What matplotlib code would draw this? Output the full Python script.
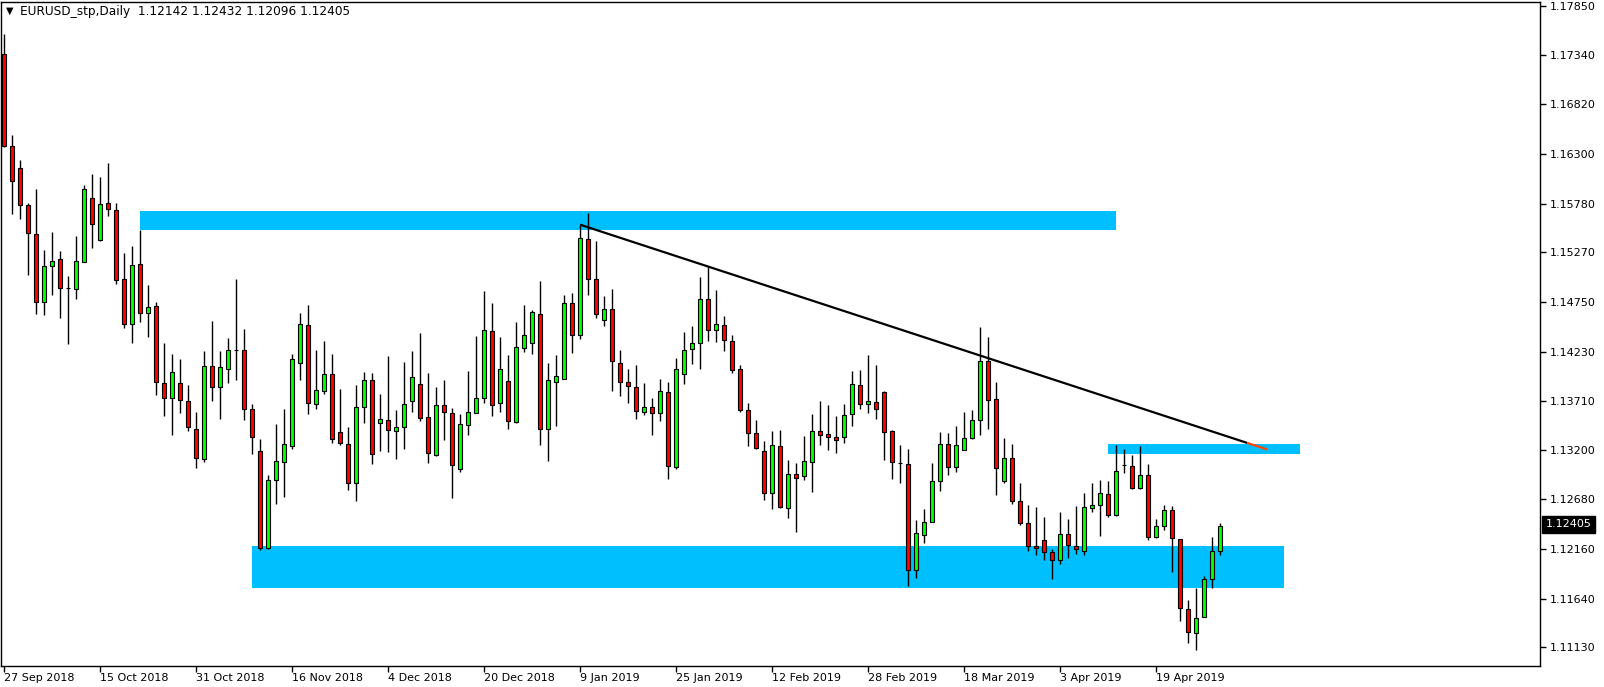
import matplotlib
matplotlib.use("Agg")
import matplotlib.pyplot as plt
from matplotlib.patches import Rectangle
import numpy as np

# daily EURUSD bars, 27 Sep 2018 .. 1 May 2019 (bar index = trading day)
opens = [1.17343, 1.16384, 1.16149, 1.15767, 1.15463, 1.14744, 1.15121, 1.15195, 1.14896, 1.14882,
         1.15172, 1.15836, 1.15393, 1.15781, 1.15711, 1.14988, 1.14522, 1.15145, 1.14633, 1.14702,
         1.13905, 1.13739, 1.13905, 1.13716, 1.13421, 1.13107, 1.14075, 1.13863, 1.14052, 1.14250,
         1.14241, 1.13624, 1.13190, 1.12167, 1.12881, 1.13075, 1.13236, 1.14112, 1.14504, 1.13683,
         1.13813, 1.13992, 1.13388, 1.13259, 1.12854, 1.13647, 1.13928, 1.13481, 1.13513, 1.13402,
         1.13444, 1.13711, 1.13895, 1.13541, 1.13144, 1.13674, 1.13591, 1.13001, 1.13462, 1.13591,
         1.13739, 1.14444, 1.13693, 1.13919, 1.13490, 1.14264, 1.14324, 1.14624, 1.13421, 1.13914,
         1.13942, 1.14739, 1.14398, 1.15412, 1.14992, 1.14564, 1.14674, 1.14112, 1.13914, 1.13863,
         1.13600, 1.13651, 1.13591, 1.13803, 1.13020, 1.13997, 1.14260, 1.14315, 1.14776, 1.14453,
         1.14504, 1.14338, 1.14043, 1.13614, 1.13379, 1.13190, 1.12748, 1.13241, 1.12591, 1.12951,
         1.12923, 1.13075, 1.13393, 1.13361, 1.13338, 1.13338, 1.13577, 1.13877, 1.13683, 1.13697,
         1.13803, 1.13393, 1.13066, 1.13057, 1.11937, 1.12310, 1.12444, 1.12872, 1.13264, 1.13024,
         1.13199, 1.13329, 1.13508, 1.14126, 1.13730, 1.12872, 1.13117, 1.12660, 1.12434, 1.12190,
         1.12255, 1.12130, 1.12043, 1.12319, 1.12190, 1.12139, 1.12596, 1.12623, 1.12734, 1.12513,
         1.13038, 1.13029, 1.12798, 1.12937, 1.12282, 1.12402, 1.12568, 1.12264, 1.11536, 1.11278,
         1.11453, 1.11849, 1.12142]
highs = [1.17555, 1.16495, 1.16231, 1.15785, 1.15933, 1.15292, 1.15486, 1.15283, 1.15020, 1.15444,
         1.15979, 1.16094, 1.16053, 1.16200, 1.15785, 1.15264, 1.15338, 1.15499, 1.14928, 1.14753,
         1.14320, 1.14200, 1.14154, 1.13877, 1.13600, 1.14232, 1.14545, 1.14232, 1.14370, 1.14992,
         1.14467, 1.13683, 1.13310, 1.12937, 1.13476, 1.13624, 1.14200, 1.14633, 1.14720, 1.14241,
         1.14338, 1.14209, 1.13836, 1.13439, 1.13877, 1.14015, 1.14002, 1.13789, 1.14181, 1.13619,
         1.14117, 1.14232, 1.14421, 1.14006, 1.13863, 1.13932, 1.13642, 1.13573, 1.14029, 1.14389,
         1.14859, 1.14739, 1.14379, 1.14190, 1.14536, 1.14720, 1.14665, 1.14965, 1.14108, 1.14190,
         1.14822, 1.14845, 1.15559, 1.15684, 1.15389, 1.14813, 1.14886, 1.14241, 1.14052, 1.14094,
         1.13905, 1.13743, 1.13942, 1.13909, 1.14167, 1.14439, 1.14495, 1.15011, 1.15126, 1.14873,
         1.14601, 1.14402, 1.14094, 1.13688, 1.13508, 1.13296, 1.13393, 1.13411, 1.13098, 1.13061,
         1.13342, 1.13573, 1.13711, 1.13670, 1.13559, 1.13679, 1.14029, 1.14034, 1.14190, 1.14089,
         1.13817, 1.13407, 1.13246, 1.13204, 1.12467, 1.12582, 1.13066, 1.13384, 1.13375, 1.13448,
         1.13596, 1.13619, 1.14485, 1.14379, 1.13909, 1.13329, 1.13259, 1.12854, 1.12623, 1.12600,
         1.12499, 1.12162, 1.12554, 1.12476, 1.12610, 1.12753, 1.12849, 1.12881, 1.12877, 1.13246,
         1.13213, 1.13144, 1.13236, 1.13048, 1.12476, 1.12623, 1.12614, 1.12268, 1.11632, 1.11757,
         1.11877, 1.12291, 1.12432]
lows = [1.16371, 1.15675, 1.15615, 1.15034, 1.14624, 1.14610, 1.14827, 1.14582, 1.14310, 1.14780,
        1.15163, 1.15315, 1.15385, 1.15647, 1.14942, 1.14481, 1.14324, 1.14541, 1.14384, 1.13776,
        1.13554, 1.13352, 1.13591, 1.13398, 1.13015, 1.13075, 1.13711, 1.13522, 1.13900, 1.13932,
        1.13513, 1.13158, 1.12153, 1.12160, 1.12628, 1.12702, 1.13204, 1.13932, 1.13573, 1.13624,
        1.13780, 1.13269, 1.13250, 1.12780, 1.12669, 1.13481, 1.13052, 1.13186, 1.13176, 1.13103,
        1.13204, 1.13596, 1.13504, 1.13061, 1.13140, 1.13301, 1.12693, 1.12964, 1.13352, 1.13585,
        1.13688, 1.13554, 1.13596, 1.13416, 1.13485, 1.14223, 1.14204, 1.13250, 1.13084, 1.13453,
        1.13938, 1.14218, 1.14356, 1.14827, 1.14582, 1.14499, 1.13813, 1.13766, 1.13693, 1.13527,
        1.13568, 1.13356, 1.13499, 1.12895, 1.12997, 1.13891, 1.14098, 1.14052, 1.14343, 1.14333,
        1.14236, 1.14006, 1.13600, 1.13236, 1.13209, 1.12674, 1.12582, 1.12586, 1.12490, 1.12338,
        1.12886, 1.12762, 1.13255, 1.13199, 1.13162, 1.13273, 1.13453, 1.13624, 1.13591, 1.13527,
        1.13089, 1.12895, 1.12854, 1.11775, 1.11858, 1.12227, 1.12440, 1.12771, 1.12937, 1.12969,
        1.13195, 1.13310, 1.13352, 1.13416, 1.12729, 1.12854, 1.12628, 1.12416, 1.12139, 1.12098,
        1.12043, 1.11844, 1.12001, 1.12070, 1.12107, 1.12102, 1.12545, 1.12296, 1.12494, 1.12504,
        1.12960, 1.12789, 1.12785, 1.12259, 1.12278, 1.12356, 1.11923, 1.11407, 1.11176, 1.11107,
        1.11450, 1.11757, 1.12096]
closes = [1.16384, 1.16011, 1.15767, 1.15472, 1.14753, 1.15126, 1.15177, 1.14900, 1.14896, 1.15177,
          1.15928, 1.15564, 1.15776, 1.15721, 1.14983, 1.14522, 1.15135, 1.14633, 1.14693, 1.13914,
          1.13739, 1.14020, 1.13725, 1.13435, 1.13117, 1.14075, 1.13863, 1.14066, 1.14246, 1.14250,
          1.13628, 1.13338, 1.12176, 1.12881, 1.13084, 1.13264, 1.14149, 1.14518, 1.13693, 1.13822,
          1.13997, 1.13315, 1.13269, 1.12854, 1.13651, 1.13928, 1.13158, 1.13518, 1.13407, 1.13444,
          1.13683, 1.13960, 1.13536, 1.13167, 1.13674, 1.13596, 1.13043, 1.13467, 1.13600, 1.13748,
          1.14453, 1.13674, 1.14043, 1.13504, 1.14273, 1.14402, 1.14642, 1.13421, 1.13928, 1.13969,
          1.14739, 1.14398, 1.15421, 1.14988, 1.14619, 1.14674, 1.14126, 1.13914, 1.13872, 1.13610,
          1.13651, 1.13591, 1.13817, 1.13034, 1.14043, 1.14250, 1.14315, 1.14785, 1.14453, 1.14522,
          1.14347, 1.14038, 1.13619, 1.13379, 1.13218, 1.12748, 1.13250, 1.12600, 1.12951, 1.12905,
          1.13084, 1.13402, 1.13356, 1.13338, 1.13305, 1.13568, 1.13886, 1.13683, 1.13707, 1.13633,
          1.13388, 1.13075, 1.13066, 1.11937, 1.12328, 1.12444, 1.12877, 1.13264, 1.13024, 1.13246,
          1.13329, 1.13508, 1.14126, 1.13725, 1.13011, 1.13117, 1.12660, 1.12434, 1.12190, 1.12167,
          1.12130, 1.12043, 1.12319, 1.12199, 1.12158, 1.12600, 1.12619, 1.12743, 1.12513, 1.12982,
          1.13038, 1.12798, 1.12937, 1.12282, 1.12402, 1.12568, 1.12273, 1.11545, 1.11296, 1.11434,
          1.11849, 1.12144, 1.12405]

date_labels = ['27 Sep 2018', '15 Oct 2018', '31 Oct 2018', '16 Nov 2018', '4 Dec 2018',
               '20 Dec 2018', '9 Jan 2019', '25 Jan 2019', '12 Feb 2019', '28 Feb 2019',
               '18 Mar 2019', '3 Apr 2019', '19 Apr 2019']
price_ticks = [1.17850, 1.17340, 1.16820, 1.16300, 1.15780, 1.15270, 1.14750, 1.14230,
               1.13710, 1.13200, 1.12680, 1.12160, 1.11640, 1.11130]

# supply / demand rectangles (bar index from/to, price low/high)
zone_from = [17, 31, 138]
zone_to = [139, 160, 162]
zone_low = [1.15499, 1.11757, 1.13153]
zone_high = [1.15702, 1.12190, 1.13259]

# descending trendline anchors
trend_bars = [72, 157.9]
trend_prices = [1.15559, 1.13204]
trend_red_from = 155.4

symbol = 'EURUSD_stp,Daily'
last_price = closes[-1]

opens = np.array(opens)
highs = np.array(highs)
lows = np.array(lows)
closes = np.array(closes)
x = np.arange(len(opens))

fig = plt.figure(figsize=(16.04, 6.87), dpi=100)
ax = fig.add_axes([1 / 1604, 21 / 687, 1539 / 1604, 664 / 687])
ax.set_xlim(-0.375, 192)
ax.set_ylim(1.10936, 1.17891)

for x0, x1, lo, hi in zip(zone_from, zone_to, zone_low, zone_high):
    ax.add_patch(Rectangle((x0, lo), x1 - x0, hi - lo, facecolor='#00BFFF',
                           edgecolor='none', zorder=1))

ax.vlines(x, lows, highs, color='black', linewidth=1, zorder=2)
body_low = np.minimum(opens, closes)
body_h = np.abs(closes - opens)
colors = np.where(closes >= opens, '#00FF00', '#FF0000')
ax.bar(x, body_h, bottom=body_low, width=0.5, color=colors, edgecolor='black',
       linewidth=0.8, zorder=3)

# trendline: black, last bit red
slope = (trend_prices[1] - trend_prices[0]) / (trend_bars[1] - trend_bars[0])
mid_price = trend_prices[0] + slope * (trend_red_from - trend_bars[0])
ax.plot([trend_bars[0], trend_red_from], [trend_prices[0], mid_price],
        color='black', linewidth=1.6, zorder=4, solid_capstyle='butt')
ax.plot([trend_red_from, trend_bars[1]], [mid_price, trend_prices[1]],
        color='#FF4500', linewidth=1.6, zorder=4, solid_capstyle='butt')

ax.yaxis.tick_right()
ax.set_yticks(price_ticks)
ax.set_yticklabels([f'{p:.5f}' for p in price_ticks])
ax.tick_params(axis='y', direction='out', length=4, width=1, labelsize=8, pad=3)
ax.set_xticks(range(0, 12 * len(date_labels), 12))
ax.set_xticklabels(date_labels, ha='left')
ax.tick_params(axis='x', direction='out', length=4, width=1, labelsize=8, pad=1)
for sp in ax.spines.values():
    sp.set_linewidth(1)
    sp.set_color('black')

ax.annotate(f'{last_price:.5f}', xy=(1, last_price), xycoords=('axes fraction', 'data'),
            xytext=(4, 1), textcoords='offset points', va='center', ha='left',
            fontsize=8, color='white',
            bbox=dict(boxstyle='square,pad=0.3', facecolor='black', edgecolor='black'))

fig.text(6 / 1604, 1 - 11 / 687, '\u25bc', fontsize=7, va='center', ha='left')
fig.text(20 / 1604, 1 - 12 / 687,
         f'{symbol}  {opens[-1]:.5f} {highs[-1]:.5f} {lows[-1]:.5f} {closes[-1]:.5f}',
         fontsize=8.7, va='center', ha='left')

fig.savefig('out.png', dpi=100)
